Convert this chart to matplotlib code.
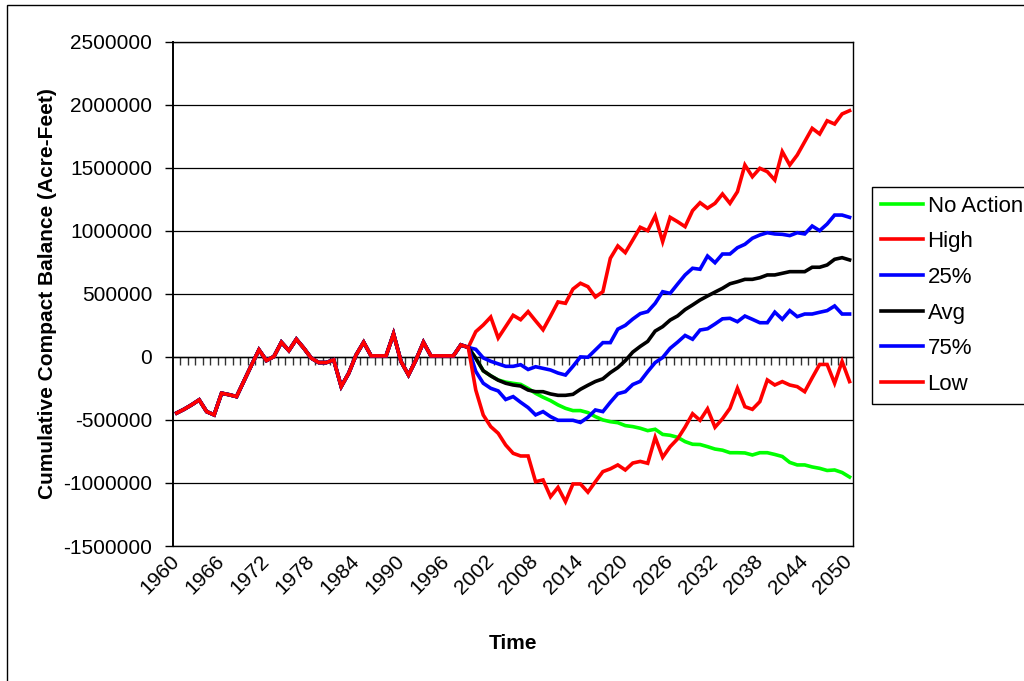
import matplotlib
matplotlib.use("Agg")
import matplotlib.pyplot as plt
import numpy as np
from matplotlib.patches import Rectangle
from matplotlib.ticker import FuncFormatter

plt.rcParams["font.family"] = ["Liberation Sans", "DejaVu Sans"]

# years 1960..2050, historical record shared by every scenario (1960-1999)
years = np.arange(1960, 2051)
hist = [-445000, -415000, -380000, -341000, -434000, -460000, -288000, -300000,
        -315000, -190000, -65000, 56000, -29000, 3000, 116000, 50000, 140000,
        69000, -10000, -45000, -45000, -24000, -235000, -130000, 16000, 116000,
        8000, 8000, 8000, 183000, -37000, -143000, -24000, 116000, 8000, 8000,
        8000, 8000, 95000, 75000]

# projections 2000..2050, in thousands of acre-feet
no_action = [-11, -110, -150, -183, -200, -210, -218, -250, -289, -320,
             -347, -381, -408, -426, -426, -442, -474, -500, -514, -522,
             -545, -553, -566, -585, -574, -615, -622, -638, -672, -693,
             -695, -712, -731, -740, -760, -760, -762, -778, -760, -760,
             -774, -790, -837, -857, -857, -873, -884, -901, -897, -917, -953]
high = [200, 253, 316, 150, 240, 330, 295, 359, 286, 215,
        323, 436, 425, 538, 584, 557, 475, 517, 782, 880,
        827, 927, 1028, 1001, 1118, 914, 1107, 1072, 1033, 1160,
        1223, 1179, 1218, 1292, 1218, 1310, 1522, 1429, 1496, 1469,
        1403, 1628, 1522, 1601, 1707, 1813, 1768, 1873, 1847, 1927, 1953]
p25 = [60, -8, -35, -55, -75, -75, -62, -100, -78, -91,
       -104, -128, -144, -75, 0, -3, 55, 113, 113, 220,
       250, 300, 343, 359, 425, 517, 504, 578, 650, 703,
       695, 800, 747, 816, 816, 866, 893, 941, 967, 985,
       975, 972, 962, 985, 975, 1038, 1001, 1054, 1125, 1125, 1107]
avg = [-11, -110, -150, -185, -209, -223, -231, -263, -276, -276,
       -294, -305, -305, -297, -257, -225, -195, -174, -125, -85,
       -30, 38, 83, 123, 205, 240, 292, 325, 375, 412,
       451, 483, 514, 544, 580, 596, 615, 615, 628, 650,
       650, 663, 676, 676, 676, 711, 711, 729, 774, 787, 769]
p75 = [-115, -209, -249, -270, -338, -315, -360, -402, -460, -434,
       -474, -503, -503, -503, -520, -479, -421, -434, -360, -292,
       -276, -219, -194, -117, -45, -5, 68, 117, 170, 140,
       213, 223, 261, 302, 306, 279, 324, 298, 271, 271,
       355, 298, 367, 319, 340, 340, 354, 367, 404, 340, 340]
low = [-263, -461, -553, -606, -699, -765, -786, -786, -990, -976,
       -1109, -1035, -1148, -1008, -1008, -1073, -990, -910, -888, -857,
       -897, -842, -829, -844, -638, -796, -712, -650, -557, -451,
       -503, -412, -558, -491, -408, -249, -395, -416, -355, -183,
       -223, -196, -223, -236, -276, -166, -60, -60, -209, -36, -196]

series = [
    ("No Action", no_action, "#00ff00"),
    ("High", high, "#ff0000"),
    ("25%", p25, "#0000ff"),
    ("Avg", avg, "#000000"),
    ("75%", p75, "#0000ff"),
    ("Low", low, "#ff0000"),
]

fig = plt.figure(figsize=(10.24, 6.81), dpi=100)
ax = fig.add_axes([173 / 1024, 1 - 546 / 681, 680.3 / 1024, 504.3 / 681])

ax.set_ylim(-1500000, 2500000)
ax.set_xlim(1959.5, 2050.5)
ax.set_yticks(np.arange(-1500000, 2500001, 500000))
ax.yaxis.set_major_formatter(FuncFormatter(lambda v, p: "%d" % v))
ax.yaxis.grid(True, color="black", lw=0.9)
ax.set_axisbelow(True)

for label, proj, color in series:
    values = np.concatenate([hist, np.array(proj) * 1000])
    ax.plot(years, values, color=color, lw=2.6, label=label, zorder=3,
            solid_joinstyle="miter")

# category ticks hanging from the zero line
zero_axis = ax.secondary_xaxis(1.5 / 4.0)
zero_axis.set_xticks(np.arange(1960.5, 2050, 1))
zero_axis.tick_params(axis="x", direction="out", length=6, width=1,
                      color="#333333", labelbottom=False, labeltop=False)
zero_axis.spines["bottom"].set_linewidth(1.0)

ax.set_xticks(np.arange(1960, 2051, 6))
ax.tick_params(axis="x", length=0, pad=9, labelsize=15)
for t in ax.get_xticklabels():
    t.set_rotation(45)
    t.set_ha("right")
    t.set_va("center")
    t.set_rotation_mode("anchor")
ax.tick_params(axis="y", direction="out", length=6, width=1, pad=9, labelsize=15)

for s in ax.spines.values():
    s.set_linewidth(1.0)
    s.set_color("black")
ax.spines["left"].set_linewidth(1.4)

ax.set_xlabel("Time", fontsize=15, fontweight="bold")
ax.xaxis.set_label_coords(0.5, -0.175)
ax.set_ylabel("Cumulative Compact Balance (Acre-Feet)", fontsize=15,
              fontweight="bold", va="center")
ax.yaxis.set_label_coords(-0.185, 0.5)

leg = fig.legend(loc="upper left", bbox_to_anchor=(872 / 1024, 1 - 186.7 / 681),
                 borderaxespad=0, fancybox=False, framealpha=1, edgecolor="black",
                 fontsize=16, handlelength=1.9, handletextpad=0.2,
                 labelspacing=0.66, borderpad=0.4)
leg.get_frame().set_linewidth(1.0)

# outer chart border
fig.patches.append(Rectangle((7 / 1024, -0.05), 1.1, 1.05 - 5 / 681,
                             transform=fig.transFigure, fill=False,
                             edgecolor="black", lw=1.0))

fig.savefig("out.png", dpi=100)
